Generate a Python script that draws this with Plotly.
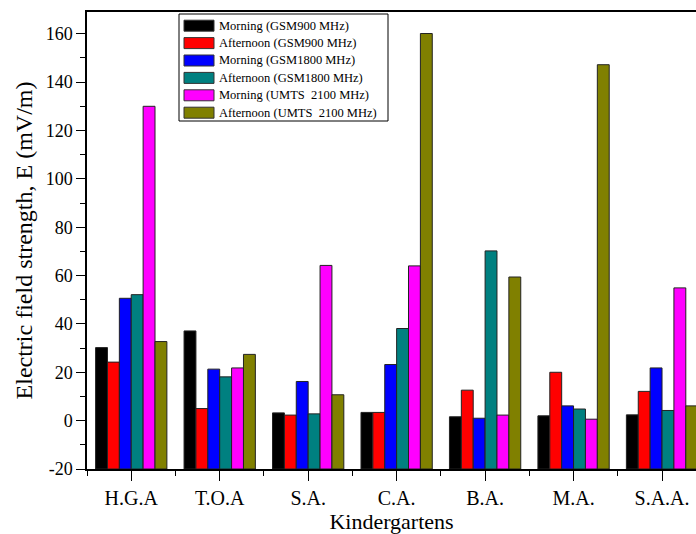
import plotly.graph_objects as go

kindergartens = ["H.G.A", "T.O.A", "S.A.", "C.A.", "B.A.", "M.A.", "S.A.A."]
series_names = [
    "Morning (GSM900 MHz)",
    "Afternoon (GSM900 MHz)",
    "Morning (GSM1800 MHz)",
    "Afternoon (GSM1800 MHz)",
    "Morning (UMTS  2100 MHz)",
    "Afternoon (UMTS  2100 MHz)",
]
morning_gsm900 = [30.2, 37.1, 3.2, 3.4, 1.6, 2.0, 2.4]
afternoon_gsm900 = [24.2, 5.0, 2.3, 3.4, 12.6, 20.0, 12.1]
morning_gsm1800 = [50.6, 21.3, 16.2, 23.2, 1.0, 6.1, 21.8]
afternoon_gsm1800 = [52.1, 18.1, 2.8, 38.1, 70.2, 4.8, 4.2]
morning_umts2100 = [130.0, 21.8, 64.2, 64.0, 2.3, 0.6, 54.9]
afternoon_umts2100 = [32.7, 27.4, 10.7, 160.1, 59.4, 147.2, 6.1]
series_values = [morning_gsm900, afternoon_gsm900, morning_gsm1800,
                 afternoon_gsm1800, morning_umts2100, afternoon_umts2100]
colors = ["#000000", "#FF0000", "#0000FF", "#008080", "#FF00FF", "#808000"]
y_tick_values = [-20, 0, 20, 40, 60, 80, 100, 120, 140, 160]
y_tick_labels = ["-20", "0", "20", "40", "60", "80", "100", "120", "140", "160"]

y_bottom = -20
font_family = "Liberation Serif, Times New Roman, serif"

W, H = 696, 534
L, R, T, B = 87, 0, 12, 65
plot_w = W - L - R
plot_h = H - T - B

fig = go.Figure()
xpos = list(range(len(kindergartens)))
for name, vals, col in zip(series_names, series_values, colors):
    fig.add_trace(go.Bar(
        x=xpos,
        y=[v - y_bottom for v in vals],
        base=y_bottom,
        name=name,
        customdata=vals,
        hovertemplate="%{customdata}<extra>" + name + "</extra>",
        marker=dict(color=col, line=dict(color="#222222", width=1)),
        showlegend=False,
    ))

# custom legend (wide swatches as in the reference)
def px_x(p):
    return (p - L) / plot_w

def px_y(p):
    return (H - B - p) / plot_h

shapes = [dict(type="rect", xref="paper", yref="paper",
               x0=px_x(179), x1=px_x(388), y0=px_y(121), y1=px_y(14),
               line=dict(color="#000000", width=1), fillcolor="white", layer="above")]
annotations = []
for i, (name, col) in enumerate(zip(series_names, colors)):
    cy = 25.7 + 17.4 * i
    shapes.append(dict(type="rect", xref="paper", yref="paper",
                       x0=px_x(184), x1=px_x(214), y0=px_y(cy + 5.5), y1=px_y(cy - 5.5),
                       line=dict(color="#333333", width=1), fillcolor=col, layer="above"))
    annotations.append(dict(xref="paper", yref="paper", x=px_x(217), y=px_y(cy),
                            xanchor="left", yanchor="middle", showarrow=False,
                            text=name, font=dict(family=font_family, size=12.5, color="#000000")))

fig.update_layout(
    width=W, height=H,
    margin=dict(l=L, r=R, t=T, b=B),
    paper_bgcolor="white", plot_bgcolor="white",
    barmode="group", bargap=0.194, bargroupgap=0,
    font=dict(family=font_family, color="#000000"),
    shapes=shapes, annotations=annotations,
    showlegend=False,
)
fig.update_xaxes(
    range=[-0.5, 6.384],
    tickmode="array", tickvals=xpos, ticktext=kindergartens,
    ticks="outside", ticklen=10, tickwidth=1.2, tickcolor="#000000",
    minor=dict(tickmode="array", tickvals=[i + 0.5 for i in range(-1, len(kindergartens))],
               ticks="outside", ticklen=5, tickwidth=1.2, tickcolor="#000000"),
    showline=True, linecolor="#000000", linewidth=1.5, mirror=True,
    showgrid=False, zeroline=False,
    tickfont=dict(family=font_family, size=20, color="#000000"),
    title=dict(text="Kindergartens", font=dict(family=font_family, size=22, color="#000000"), standoff=2),
)
fig.update_yaxes(
    range=[-20, 169],
    tickmode="array", tickvals=y_tick_values, ticktext=y_tick_labels,
    ticks="outside", ticklen=9, tickwidth=1.2, tickcolor="#000000",
    minor=dict(dtick=10, tick0=0, ticks="outside", ticklen=5, tickwidth=1.2, tickcolor="#000000"),
    showline=True, linecolor="#000000", linewidth=1.5,
    showgrid=False, zeroline=False,
    tickfont=dict(family=font_family, size=18, color="#000000"),
    title=dict(text="Electric field strength, E (mV/m)", font=dict(family=font_family, size=24, color="#000000"), standoff=6),
)

fig.write_html("out.html", config={"displayModeBar": False},
               post_script="document.body.style.margin='0px';")
